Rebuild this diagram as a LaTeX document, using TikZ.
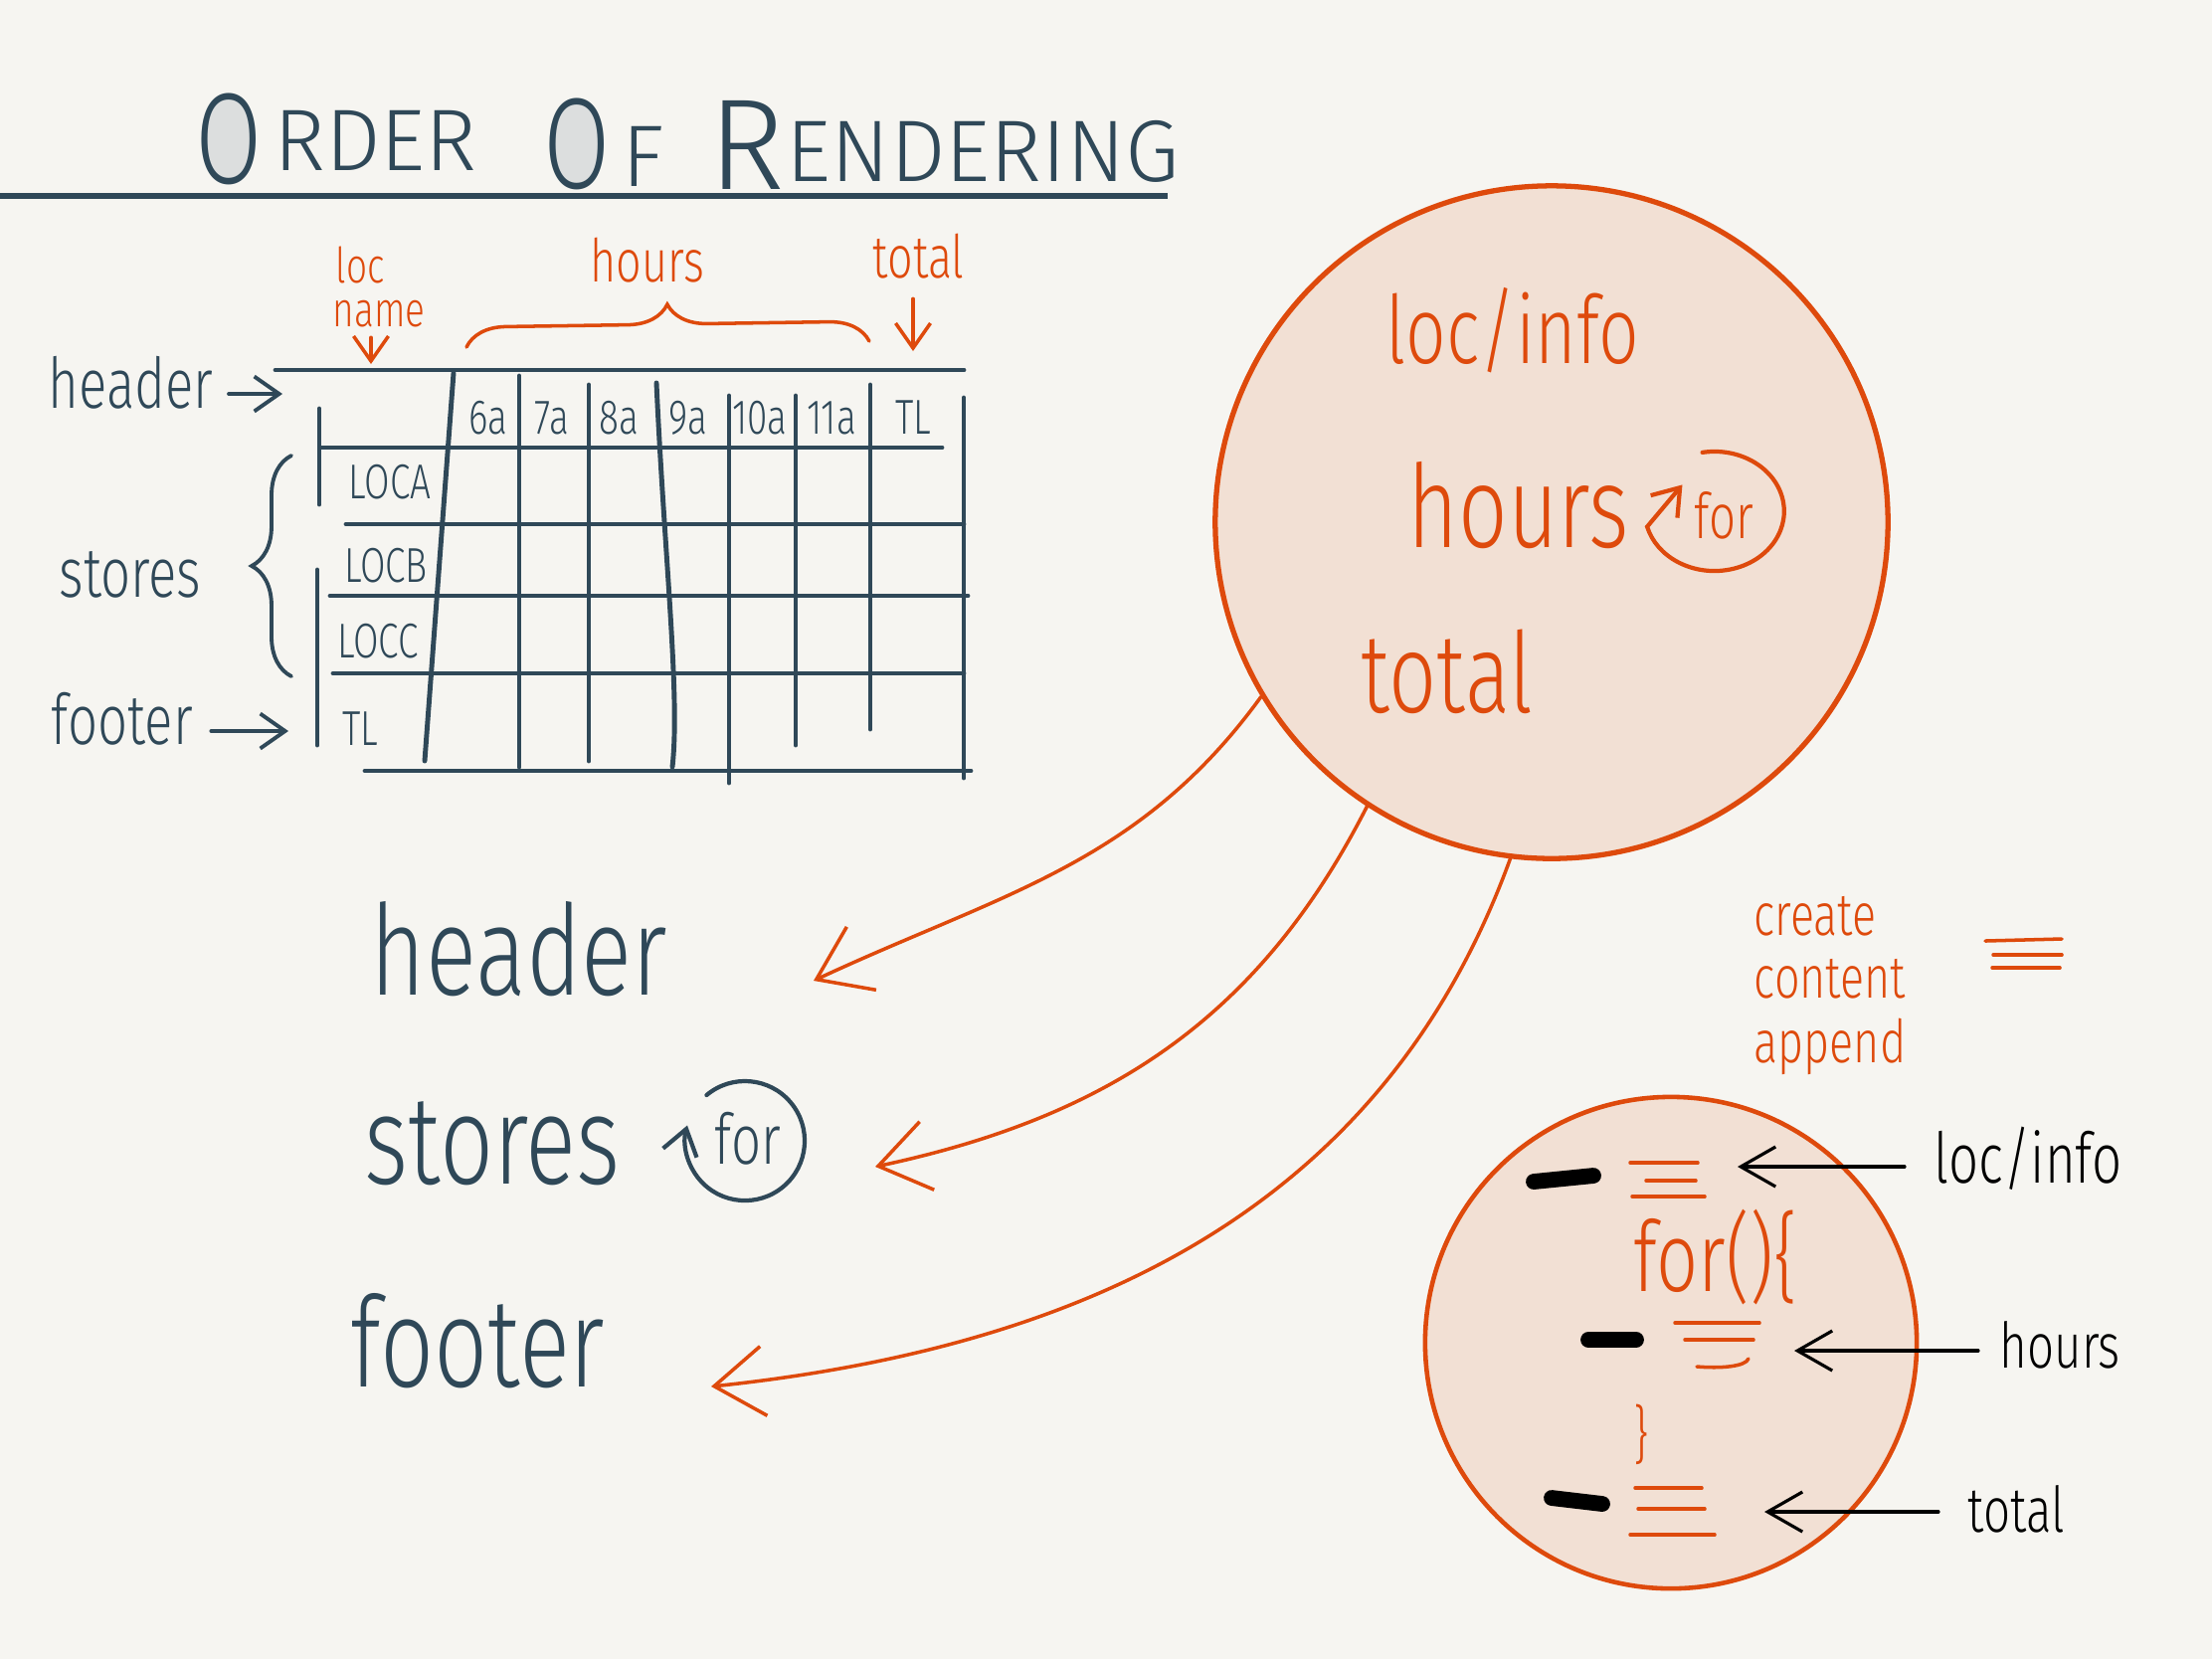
\documentclass[tikz,border=0pt]{standalone}
\usepackage{fontspec}
\setmainfont{Fira Sans Light}[FakeStretch=0.75]
\newfontfamily\titlefont{Fira Sans Light}
\usetikzlibrary{arrows.meta,decorations.pathreplacing}
\definecolor{paper}{HTML}{F6F5F1}
\definecolor{slate}{HTML}{2F4858}
\definecolor{orng}{HTML}{DE4A0C}
\definecolor{peach}{HTML}{F2E0D4}
\definecolor{ogray}{HTML}{DCDEDE}
\newcommand{\fsz}[1]{\fontsize{#1}{#1}\selectfont}

\begin{document}
\begin{tikzpicture}[x=0.01cm, y=-0.01cm,
    slateline/.style={draw=slate, line width=1.4pt, line cap=round},
    orgline/.style={draw=orng, line width=1pt, line cap=round},
    blkdash/.style={draw=black, line width=4.5pt, line cap=round},
    slatetext/.style={text=slate, inner sep=0pt},
    orgtext/.style={text=orng, inner sep=0pt},
    blktext/.style={text=black, inner sep=0pt},
    bigarrow/.style={orgline, -{Straight Barb[length=5mm, width=7mm]}},
    smallarrow/.style={-{Straight Barb[length=2.5mm, width=3.5mm]}},
    blkarrow/.style={draw=black, line width=0.9pt, line cap=round, -{Straight Barb[length=3.5mm, width=4mm]}},
    bubble/.style={circle, draw=orng, fill=peach, line width=1.5pt, inner sep=0pt}]

% Draw the paper
\useasboundingbox[fill=paper] (0,0) rectangle (2224,1668);

% Draw the title
\fill[ogray] (230,140) ellipse [x radius=0.26cm, y radius=0.41cm];
\node[slatetext, font=\fsz{37}] (ttlOa) at (230,140) {O};
\node[slatetext, font=\titlefont\fsz{25}, anchor=base west] (ttlrder) at ([shift={(0.1cm,0.13cm)}]ttlOa.base east) {RDER};
\fill[ogray] (580,145) ellipse [x radius=0.26cm, y radius=0.41cm];
\node[slatetext, font=\fsz{37}] (ttlOb) at (580,145) {O};
\node[slatetext, font=\titlefont\fsz{25}, anchor=base west] (ttlf) at ([shift={(0.1cm,0.02cm)}]ttlOb.base east) {F};
\node[slatetext, font=\titlefont\fsz{37}, anchor=base west] (ttlr) at (712,190) {R};
\node[slatetext, font=\titlefont\fsz{25}, anchor=base west] (ttlrest) at ([shift={(0cm,0.08cm)}]ttlr.base east) {ENDERING};
\draw[slate, line width=1.9pt] (0,197) -- (1174,197);

% Draw the table grid
\draw[slateline] (277,372) -- (969,372);
\draw[slateline] (322,450) -- (947,450);
\draw[slateline] (348,527) -- (969,527);
\draw[slateline] (332,599) -- (973,599);
\draw[slateline] (335,677) -- (969,677);
\draw[slateline] (367,775) -- (976,775);
\draw[slateline] (321,411) -- (321,507);
\draw[slateline] (319,573) -- (319,749);
\draw[slateline] (456,375) -- (427,765);
\draw[slateline] (522,378) -- (522,771);
\draw[slateline] (592,387) -- (592,765);
\draw[slateline] (660,385) .. controls (668,560) and (684,700) .. (676,771);
\draw[slateline] (733,398) -- (733,787);
\draw[slateline] (800,398) -- (800,749);
\draw[slateline] (875,387) -- (875,733);
\draw[slateline] (969,400) -- (969,782);

% Draw the column and row labels
\node[slatetext, font=\fsz{14}] (csix) at (491,420) {6a};
\node[slatetext, font=\fsz{14}] (cseven) at (555,420) {7a};
\node[slatetext, font=\fsz{14}] (ceight) at (622,420) {8a};
\node[slatetext, font=\fsz{14}] (cnine) at (692,420) {9a};
\node[slatetext, font=\fsz{14}] (cten) at (764,420) {10a};
\node[slatetext, font=\fsz{14}] (celeven) at (836,420) {11a};
\node[slatetext, font=\fsz{14}] (ctl) at (918,420) {TL};
\node[slatetext, font=\fsz{14}] (rloca) at (392,485) {LOCA};
\node[slatetext, font=\fsz{14}] (rlocb) at (388,569) {LOCB};
\node[slatetext, font=\fsz{14}] (rlocc) at (380,645) {LOCC};
\node[slatetext, font=\fsz{14}] (rtl) at (362,733) {TL};

% Draw the labels left of the table
\node[slatetext, font=\fsz{20}, anchor=base west] (hdrlbl) at (48,410) {header};
\coordinate (hdrlbltip) at (284,396);
\draw[slateline, line width=1.1pt, smallarrow, shorten <=1.5mm] (hdrlbl.east |- hdrlbltip) -- (hdrlbltip);
\node[slatetext, font=\fsz{20}] (strlbl) at (131,578) {stores};
\draw[slateline, line width=1.1pt, decorate, decoration={brace, amplitude=0.4cm}] (293,680) -- (293,458);
\node[slatetext, font=\fsz{20}, anchor=base west] (ftrlbl) at (51,748) {footer};
\coordinate (ftrlbltip) at (290,735);
\draw[slateline, line width=1.1pt, smallarrow, shorten <=1.8mm] (ftrlbl.east |- ftrlbltip) -- (ftrlbltip);

% Draw the labels above the table
\node[orgtext, font=\fsz{14}, anchor=base west] (lblloc) at (337,284) {loc};
\node[orgtext, font=\fsz{14}, anchor=base west] (lblname) at (334,328) {name};
\coordinate (lblnametip) at (373,366);
\draw[orgline, smallarrow, shorten <=1mm] (lblname.south -| lblnametip) -- (lblnametip);
\node[orgtext, font=\fsz{17}, anchor=base west] (lblhours) at (593,283) {hours};
\draw[orgline, decorate, decoration={brace, amplitude=0.4cm}] (469,349) -- (874,343);
\node[orgtext, font=\fsz{17}, anchor=base west] (lbltotal) at (877,279) {total};
\coordinate (lbltotaltip) at (918,353);
\draw[orgline, smallarrow, shorten <=2mm] (lbltotal.south -| lbltotaltip) -- (lbltotaltip);

% Draw the big bubble
\node[bubble, minimum size=6.76cm] (bigc) at (1560,525) {};
\node[orgtext, font=\fsz{27}, anchor=base west] (cinfo) at (1393,365) {loc/info};
\node[orgtext, font=\fsz{33}, anchor=base west] (chours) at (1415,550) {hours};
\node[orgtext, font=\fsz{18}] (cfor) at (1733,518) {for};
\draw[orgline, line width=1.2pt, smallarrow] ([shift={(100:0.6cm)}]1722,514) arc[start angle=100, end angle=-165, x radius=0.7cm, y radius=0.6cm] -- ++(50:0.55cm);
\node[orgtext, font=\fsz{32}, anchor=base west] (ctotal) at (1368,716) {total};

% Draw the parts of the page
\node[slatetext, font=\fsz{36}, anchor=base west] (bhdr) at (372,1000) {header};
\node[slatetext, font=\fsz{36}, anchor=base west] (bstr) at (366,1190) {stores};
\node[slatetext, font=\fsz{20}] (lfor) at (752,1145) {for};
\draw[slateline, line width=1.2pt, smallarrow] ([shift={(130:0.6cm)}]749,1147) arc[start angle=130, end angle=-195, radius=0.6cm];
\node[slatetext, font=\fsz{36}, anchor=base west] (bftr) at (352,1394) {footer};

% Draw the arrows from the bubble
\coordinate (hdrtip) at (818,986);
\coordinate (strtip) at (880,1173);
\coordinate (ftrtip) at (715,1394);
\draw[bigarrow] (bigc.211) to[out=234, in=25] (hdrtip);
\draw[bigarrow] (bigc.237) to[out=243, in=12] (strtip);
\draw[bigarrow] (bigc.263) to[out=250, in=6] (ftrtip);

% Draw the create content append note
\node[orgtext, font=\fsz{17}, anchor=base west] (wcreate) at (1763,940) {create};
\node[orgtext, font=\fsz{17}, anchor=base west] (wcontent) at (1763,1003) {content};
\node[orgtext, font=\fsz{17}, anchor=base west] (wappend) at (1763,1068) {append};
\draw[orgline] (1996,946) -- (2073,944);
\draw[orgline] (2004,960) -- (2073,960);
\draw[orgline] (2003,973) -- (2071,973);

% Draw the small bubble
\node[bubble, line width=1.3pt, minimum size=4.94cm] (smallc) at (1680,1350) {};
\draw[blkdash] (1542,1188) -- (1602,1182);
\draw[orgline] (1639,1169) -- (1707,1169);
\draw[orgline] (1655,1187) -- (1705,1187);
\draw[orgline] (1641,1203) -- (1714,1203);
\node[orgtext, font=\fsz{28}, anchor=base west] (sfor) at (1642,1298) {for()\{};
\draw[blkdash] (1597,1347) -- (1645,1347);
\draw[orgline] (1684,1330) -- (1769,1330);
\draw[orgline] (1694,1347) -- (1763,1347);
\draw[orgline] (1706,1374) .. controls (1730,1376) and (1755,1374) .. (1758,1366);
\node[orgtext, font=\fsz{18}] (sclose) at (1650,1442) {\}};
\draw[blkdash] (1560,1506) -- (1611,1512);
\draw[orgline] (1644,1496) -- (1711,1496);
\draw[orgline] (1647,1517) -- (1714,1517);
\draw[orgline] (1639,1543) -- (1724,1543);

% Draw the labels of the small bubble
\node[blktext, font=\fsz{20}, anchor=base west] (sinfo) at (1944,1189) {loc/info};
\coordinate (sinfotip) at (1747,1173);
\draw[blkarrow, shorten <=2.9mm] (sinfo.west |- sinfotip) -- (sinfotip);
\node[blktext, font=\fsz{18}, anchor=base west] (shours) at (2010,1375) {hours};
\coordinate (shourstip) at (1804,1358);
\draw[blkarrow, shorten <=2.1mm] (shours.west |- shourstip) -- (shourstip);
\node[blktext, font=\fsz{18}, anchor=base west] (stotal) at (1978,1540) {total};
\coordinate (stotaltip) at (1774,1520);
\draw[blkarrow, shorten <=2.9mm] (stotal.west |- stotaltip) -- (stotaltip);
\end{tikzpicture}
\end{document}
